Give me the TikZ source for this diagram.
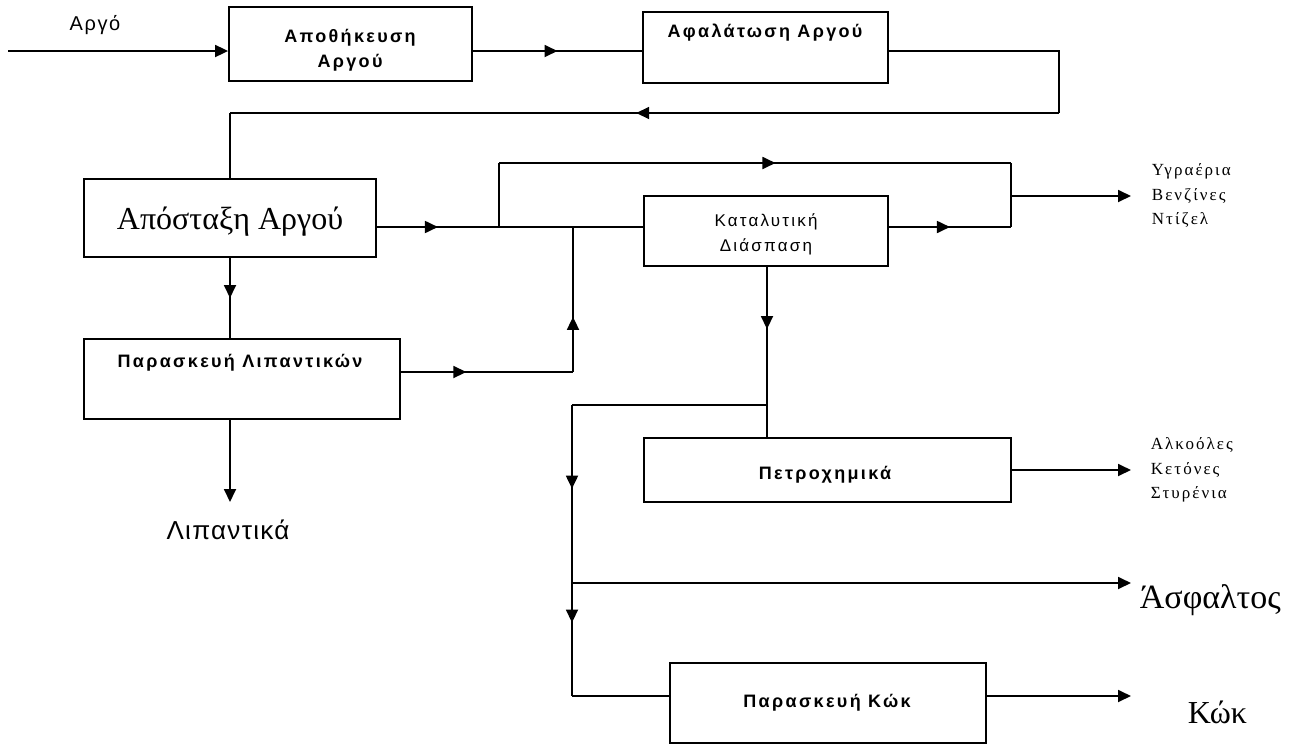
\documentclass[tikz,border=0pt]{standalone}
\usepackage{fontspec}
\setmainfont{Liberation Serif}
\setsansfont{Liberation Sans}
\usetikzlibrary{arrows.meta,decorations.markings}
\begin{document}
\begin{tikzpicture}[x=1pt,y=-1pt,
  line width=1.8pt,
  box/.style={draw,line width=1.8pt,inner sep=0pt,rectangle},
  tip/.style={-{Triangle[length=13pt,width=12pt]}},
  marr/.style={postaction={decorate,decoration={markings,mark=at position #1 with {\arrow{Triangle[length=13pt,width=12pt]}}}}},
  bl/.style={font=\fontsize{18}{25}\selectfont\sffamily\bfseries\addfontfeature{LetterSpace=13},align=center,inner sep=0pt},
  sl/.style={font=\fontsize{17}{25}\selectfont\sffamily\addfontfeature{LetterSpace=13},align=center,inner sep=0pt},
  rl/.style={font=\fontsize{17}{24.5}\selectfont\rmfamily\addfontfeature{LetterSpace=12},align=left,inner sep=0pt,anchor=west},
  big/.style={font=\fontsize{32}{36}\selectfont\rmfamily,inner sep=0pt}
]
\useasboundingbox (0,0) rectangle (1294,745);

% boxes
\node[box,minimum width=243pt,minimum height=74pt] (A) at (350.5,44) {};
\node[box,minimum width=245pt,minimum height=71pt] (B) at (765.5,47.5) {};
\node[box,minimum width=292pt,minimum height=78pt] (C) at (230,218) {};
\node[box,minimum width=244pt,minimum height=70pt] (D) at (766,231) {};
\node[box,minimum width=316pt,minimum height=80pt] (E) at (242,379) {};
\node[box,minimum width=367pt,minimum height=64pt] (F) at (827.5,470) {};
\node[box,minimum width=316pt,minimum height=80pt] (G) at (828,703) {};

% box texts
\node[bl] (tA) at (350,50) {Αποθήκευση\\Αργού};
\node[bl] (tB) at (765,33) {Αφαλάτωση Αργού};
\node[big] (tC) at (230,222) {Απόσταξη Αργού};
\node[sl] (tD) at (766,234) {Καταλυτική\\Διάσπαση};
\node[bl] (tE) at (240,363) {Παρασκευή Λιπαντικών};
\node[bl] (tF) at (825,475) {Πετροχημικά};
\node[bl] (tG) at (827,703) {Παρασκευή Κώκ};

% free labels
\node[inner sep=0pt,font=\fontsize{20}{22}\selectfont\sffamily\addfontfeature{LetterSpace=8}] (lin) at (95,25) {Αργό};
\node[inner sep=0pt,font=\fontsize{26}{30}\selectfont\sffamily\addfontfeature{LetterSpace=5}] (llub) at (228,530) {Λιπαντικά};
\node[rl] (l1) at (1151,196) {Υγραέρια\\Βενζίνες\\Ντίζελ};
\node[rl] (l2) at (1150,470) {Αλκοόλες\\Κετόνες\\Στυρένια};
\node[big,anchor=west,font=\fontsize{34}{38}\selectfont\rmfamily] (l3) at (1139,600) {Άσφαλτος};
\node[big,anchor=west] (l4) at (1187,712) {Κώκ};

% coordinates
\coordinate (in) at (8,51);
\coordinate (r1) at (1059,51);
\coordinate (r2) at (1059,113);
\coordinate (j1) at (499,227);
\coordinate (j2) at (573,227);
\coordinate (e1) at (573,372);
\coordinate (t1) at (499,163);
\coordinate (t2) at (1011,163);
\coordinate (t3) at (1011,227);
\coordinate (o1) at (1011,196);
\coordinate (xo) at (1131,0);
\coordinate (d1) at (767,405);
\coordinate (k1) at (572,405);
\coordinate (k2) at (572,583);
\coordinate (k3) at (572,696);
\coordinate (lub) at (230,502);

% connectors
\draw[tip] (in) -- (in -| A.west);
\draw[marr=0.5] (A.east |- in) -- (B.west |- in);
\draw (B.east |- in) -- (r1) -- (r2);
\draw[marr=0.51] (r2) -- (r2 -| C.north);
\draw (r2 -| C.north) -- (C.north);

\draw[marr=0.5] (C.east |- j1) -- (j1);
\draw (j1) -- (D.west |- j1);
\draw (j1) -- (t1);
\draw[marr=0.54] (t1) -- (t2);
\draw (t2) -- (t3);
\draw[marr=0.5] (D.east |- t3) -- (t3);
\draw[tip] (o1) -- (o1 -| xo);

\draw[marr=0.5] (C.south) -- (C.south |- E.north);
\draw[marr=0.38] (E.east |- e1) -- (e1);
\draw[marr=0.38] (e1) -- (j2);
\draw[tip] (C.south |- E.south) -- (lub);

\draw[marr=0.45] (D.south -| d1) -- (d1);
\draw (d1) -- (F.north -| d1);
\draw (d1) -- (k1);
\draw[marr=0.47] (k1) -- (k2);
\draw[marr=0.35] (k2) -- (k3);
\draw (k3) -- (G.west |- k3);
\draw[tip] (k2) -- (k2 -| xo);
\draw[tip] (F.east) -- (F.east -| xo);
\draw[tip] (G.east |- k3) -- (k3 -| xo);
\end{tikzpicture}
\end{document}
